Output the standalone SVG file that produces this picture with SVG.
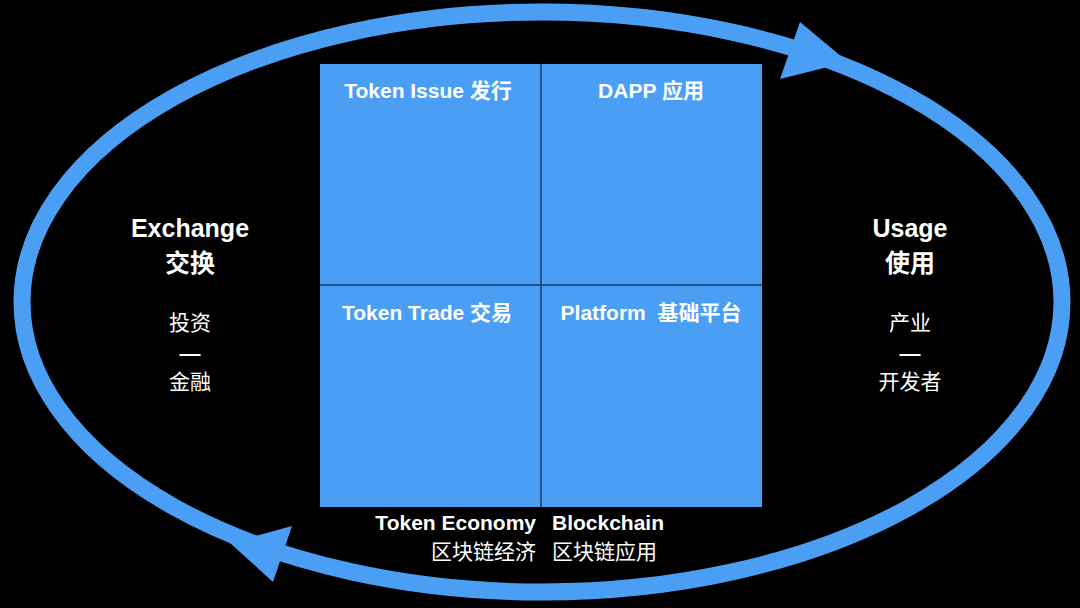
<svg xmlns="http://www.w3.org/2000/svg" width="1080" height="608" viewBox="0 0 1080 608">
<style>
.t{font-family:"Liberation Sans","Noto Sans CJK SC",sans-serif;font-weight:bold;fill:#fff;white-space:pre}
.n{font-weight:normal}
.c{fill:#4A9FF5}
</style>
<rect width="1080" height="608" fill="#000"/>
<g id="connectors">
<ellipse cx="542" cy="302" rx="520" ry="290" fill="none" stroke="#4A9FF5" stroke-width="17"/>
<polygon class="c" points="800,22 848,62 780,79"/>
<polygon class="c" points="292,526 230,543 273,582"/>
</g>
<g id="grid">
<rect x="320" y="64" width="442" height="443" class="c"/>
<line x1="541" y1="64" x2="541" y2="507" stroke="#1a3a60" stroke-width="1.5"/>
<line x1="320" y1="285" x2="762" y2="285" stroke="#1a3a60" stroke-width="1.5"/>
</g>
<g id="token-issue"><text class="t" x="428" y="98" font-size="21" text-anchor="middle">Token Issue 发行</text></g>
<g id="dapp"><text class="t" x="651" y="98" font-size="21" text-anchor="middle">DAPP 应用</text></g>
<g id="token-trade"><text class="t" x="427" y="320" font-size="21" text-anchor="middle">Token Trade 交易</text></g>
<g id="platform"><text class="t" x="651" y="320" font-size="21" text-anchor="middle">Platform  基础平台</text></g>
<g id="exchange">
<text class="t" x="190" y="237" font-size="25" text-anchor="middle">Exchange</text>
<text class="t" x="190" y="272" font-size="25" text-anchor="middle">交换</text>
<text class="t n" x="190" y="330" font-size="21" text-anchor="middle">投资</text>
<text class="t" x="190" y="360" font-size="21" text-anchor="middle">—</text>
<text class="t n" x="190" y="389" font-size="21" text-anchor="middle">金融</text>
</g>
<g id="usage">
<text class="t" x="910" y="237" font-size="25" text-anchor="middle">Usage</text>
<text class="t" x="910" y="272" font-size="25" text-anchor="middle">使用</text>
<text class="t n" x="910" y="330" font-size="21" text-anchor="middle">产业</text>
<text class="t" x="910" y="360" font-size="21" text-anchor="middle">—</text>
<text class="t n" x="910" y="389" font-size="21" text-anchor="middle">开发者</text>
</g>
<g id="token-economy">
<text class="t" x="536" y="530" font-size="21" text-anchor="end">Token Economy</text>
<text class="t n" x="536" y="559" font-size="21" text-anchor="end">区块链经济</text>
</g>
<g id="blockchain">
<text class="t" x="552" y="530" font-size="21">Blockchain</text>
<text class="t n" x="552" y="559" font-size="21">区块链应用</text>
</g>
</svg>
